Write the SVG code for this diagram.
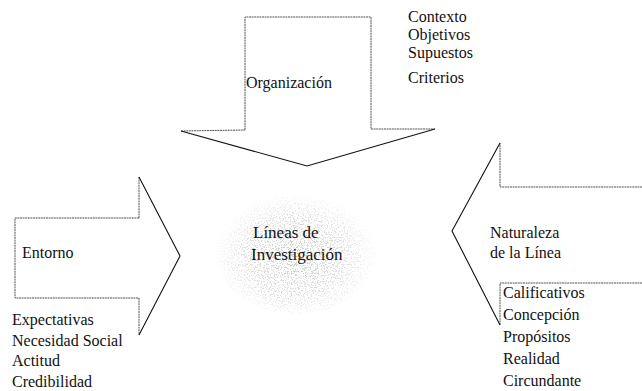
<svg xmlns="http://www.w3.org/2000/svg" width="642" height="391" viewBox="0 0 642 391">
<style>
  text { font-family: "Liberation Serif", "DejaVu Serif", "Times New Roman", serif; fill: #111; }
  .t { font-size: 16px; }
  .c { font-size: 17px; }
  .shaft { fill: none; stroke: #555; stroke-width: 1; stroke-dasharray: 2 0.6; }
  .head { fill: none; stroke: #111; stroke-width: 1.1; }
</style>
<defs>
  <radialGradient id="fade" cx="50%" cy="55%" r="50%">
    <stop offset="0" stop-color="#000" stop-opacity="0.9"/>
    <stop offset="0.6" stop-color="#000" stop-opacity="0.55"/>
    <stop offset="1" stop-color="#000" stop-opacity="0"/>
  </radialGradient>
  <filter id="stip" x="0" y="0" width="100%" height="100%">
    <feTurbulence type="fractalNoise" baseFrequency="0.7" numOctaves="2" seed="7" result="n"/>
    <feColorMatrix in="n" type="matrix" values="0 0 0 0 0.55  0 0 0 0 0.55  0 0 0 0 0.55  8 0 0 0 -4.1" result="dots"/>
    <feComposite in="dots" in2="SourceGraphic" operator="in"/>
  </filter>
</defs>
<rect width="642" height="391" fill="#fff"/>

<g id="lineas">
  <ellipse cx="296" cy="250" rx="82" ry="64" fill="url(#fade)" filter="url(#stip)"/>
  <text class="c" x="253" y="238" font-family="Liberation Serif, serif">Líneas de</text>
  <text class="c" x="251" y="260" font-family="Liberation Serif, serif">Investigación</text>
</g>

<g id="connectors">
  <g id="arrow-organizacion">
    <polyline class="shaft" points="245,130 245,17 371,17 371,129"/>
    <polyline class="shaft" points="181,131 245,130"/>
    <polyline class="shaft" points="371,129 435,129"/>
    <polyline class="head" points="181,131 307,166 435,129"/>
  </g>
  <g id="arrow-entorno">
    <polyline class="shaft" points="139,218 15,218 15,298 139,298"/>
    <polyline class="shaft" points="139,218 139,177"/>
    <polyline class="shaft" points="139,298 139,335"/>
    <polyline class="head" points="139,177 180,256 139,335"/>
  </g>
  <g id="arrow-naturaleza">
    <polyline class="shaft" points="642,187 500,187 500,143"/>
    <polyline class="shaft" points="642,283 500,283 500,325"/>
    <polyline class="head" points="500,143 452,231 500,325"/>
  </g>
</g>

<g id="organizacion">
  <text class="t" x="246" y="88">Organización</text>
  <text class="t" x="408" y="22">Contexto</text>
  <text class="t" x="408" y="40">Objetivos</text>
  <text class="t" x="408" y="58">Supuestos</text>
  <text class="t" x="408" y="83">Criterios</text>
</g>

<g id="entorno">
  <text class="t" x="22" y="258">Entorno</text>
  <text class="t" x="12" y="325">Expectativas</text>
  <text class="t" x="12" y="346">Necesidad Social</text>
  <text class="t" x="12" y="366">Actitud</text>
  <text class="t" x="12" y="387">Credibilidad</text>
</g>

<g id="naturaleza">
  <text class="t" x="490" y="238">Naturaleza</text>
  <text class="t" x="490" y="258">de la Línea</text>
  <text class="t" x="503" y="298">Calificativos</text>
  <text class="t" x="503" y="320">Concepción</text>
  <text class="t" x="503" y="342">Propósitos</text>
  <text class="t" x="503" y="364">Realidad</text>
  <text class="t" x="503" y="386">Circundante</text>
</g>
</svg>
